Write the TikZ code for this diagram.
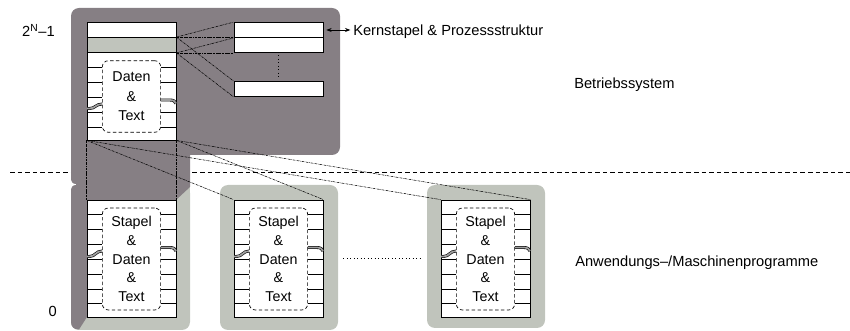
\documentclass[tikz,border=0pt]{standalone}
\usepackage{fontspec}
\setmainfont{Liberation Sans}
\usetikzlibrary{arrows.meta}
\definecolor{dgray}{RGB}{134,127,132}
\definecolor{lgray}{RGB}{192,196,188}
\begin{document}
\begin{tikzpicture}[x=0.75pt,y=-0.75pt,
  cell/.style={draw, line width=0.6pt, fill=white, inner sep=0pt, minimum width=66.75pt},
  dbox/.style={draw, dash pattern=on 2.6pt off 1.8pt, line width=0.5pt, rounded corners=4.5pt, fill=white, inner sep=0pt, minimum width=43.7pt, align=center, font=\fontsize{10.7}{14}\selectfont},
  tickline/.style={line width=0.6pt},
  brk/.style={double=gray!75, double distance=1.3pt, line width=0.45pt},
  conn/.style={line width=0.4pt, dash pattern=on 1.8pt off 0.6pt on 0.4pt off 0.6pt},
  lbl/.style={inner sep=0pt, font=\fontsize{11}{13}\selectfont},
  sepline/.style={dash pattern=on 3.5pt off 2.2pt, line width=0.5pt},
  dotline/.style={dotted, line width=0.6pt},
  tipped/.style={{Stealth[length=4pt,width=3pt]}-{Stealth[length=4pt,width=3pt]}, line width=0.5pt}
]
\useasboundingbox (0,0) rectangle (850,331);

% separator
\draw[sepline] (10,172) -- (850,172);

% light application boxes
\fill[lgray, rounded corners=6pt] (71,185) rectangle (190,330);
\fill[lgray] (160,185) rectangle (190,205);
\fill[lgray, rounded corners=6pt] (220,185) rectangle (338,330);
\fill[lgray, rounded corners=6pt] (427,185) rectangle (545,328);

% dark operating system region
\fill[dgray, rounded corners=6pt] (71,8) rectangle (340,155);
\fill[dgray] (71,120) -- (190,120) -- (190,187) -- (176,200) -- (87,200) -- (87,317)
  -- (79,329.5) .. controls (74,329.5) and (71,327) .. (71,322)
  -- (71,191) .. controls (71,187.5) and (72.5,185) .. (76,185)
  -- (76,184) .. controls (72.5,184) and (71,181.5) .. (71,178) -- cycle;

% OS memory column
\node[cell, minimum height=11.25pt] (osTop) at (131.5,30) {};
\node[cell, fill=lgray, minimum height=11.25pt] (osGray) at (131.5,45) {};
\node[cell, minimum height=65.625pt] (osBody) at (131.5,96.25) {};

% kernel stacks
\node[cell, minimum height=11.25pt] (kA) at (278.5,30) {};
\node[cell, minimum height=11.25pt] (kB) at (278.5,45) {};
\node[cell, minimum height=11.25pt] (kC) at (278.5,89) {};

% application columns
\node[cell, minimum height=87.75pt] (app1) at (131.5,258.5) {};
\node[cell, minimum height=87.75pt] (app2) at (278.5,258.5) {};
\node[cell, minimum height=87.75pt] (app3) at (485.5,258.5) {};

% ticks OS
\foreach \s in {67,82,97,112,127}
  \draw[tickline] (87,\s) -- (102.35,\s);
\foreach \s in {67,82,112,127}
  \draw[tickline] (160.65,\s) -- (176,\s);
\draw[brk] (87,108.5) -- (89.5,108.5) .. controls (95.5,108.5) and (95.5,104) .. (102.35,104);
\draw[brk] (160.65,100) -- (170,100) .. controls (173.5,100) and (175.5,101.5) .. (176,103.5);

% ticks applications
\foreach \cx in {131.5,278.5,485.5}{
  \foreach \s in {214,229,244,259,274,289,303.5}
    \draw[tickline] ({\cx-44.5},\s) -- ({\cx-29.15},\s);
  \foreach \s in {214,229,259,274,289,303.5}
    \draw[tickline] ({\cx+29.15},\s) -- ({\cx+44.5},\s);
  \draw[brk] ({\cx-44.5},256.5) -- ({\cx-42},256.5) .. controls ({\cx-36},256.5) and ({\cx-36},251) .. ({\cx-29.15},251);
  \draw[brk] ({\cx+29.15},247.5) -- ({\cx+38.5},247.5) .. controls ({\cx+42},247.5) and ({\cx+44},249) .. ({\cx+44.5},251);
}

% dashed content boxes
\node[dbox, minimum height=53.7pt, font=\fontsize{10.7}{14.6}\selectfont] (osTxt) at (131.5,96.5) {Daten\\\&\\Text};
\node[dbox, minimum height=76.5pt] (t1) at (131.5,259) {Stapel\\\&\\Daten\\\&\\Text};
\node[dbox, minimum height=76.5pt] (t2) at (278.5,259) {Stapel\\\&\\Daten\\\&\\Text};
\node[dbox, minimum height=76.5pt] (t3) at (485.5,259) {Stapel\\\&\\Daten\\\&\\Text};

% connectors OS -> kernel stacks
\draw[conn] (osGray.north east) -- (kA.north west);
\draw[conn] (osGray.south east) -- (kA.south west);
\draw[conn] (osGray.north east) -- (kB.north west);
\draw[conn] (osGray.south east) -- (kB.south west);
\draw[conn] (osGray.north east) -- (kC.north west);
\draw[conn] (osGray.south east) -- (kC.south west);

% connectors OS -> applications
\draw[conn] (osBody.south west) -- (app1.north west);
\draw[conn] (osBody.south east) -- (app1.north east);
\draw[conn] (osBody.south west) -- (app2.north west);
\draw[conn] (osBody.south east) -- (app2.north east);
\draw[conn] (osBody.south west) -- (app3.north west);
\draw[conn] (osBody.south east) -- (app3.north east);

% dotted continuation marks
\draw[dotline, shorten <=1.8pt, shorten >=1.2pt] (kB.south) -- (kC.north);
\draw[dotline, shorten <=15pt, shorten >=14pt] (app2.east) -- (app3.west);

% labels
\node[lbl, anchor=base east] (hi) at (55,37) {2\textsuperscript{N}–1};
\node[lbl, anchor=base east] (lo) at (57,317) {0};
\node[lbl, anchor=base west] (bs) at (574,89) {Betriebssystem};
\node[lbl, anchor=base west] (ap) at (575,266.5) {Anwendungs–/Maschinenprogramme};
\node[lbl, anchor=base west] (ks) at (353,36) {Kernstapel \& Prozessstruktur};
\draw[tipped, shorten <=2.2pt, shorten >=2pt] (kA.east) -- (ks.west |- kA.east);
\end{tikzpicture}
\end{document}
